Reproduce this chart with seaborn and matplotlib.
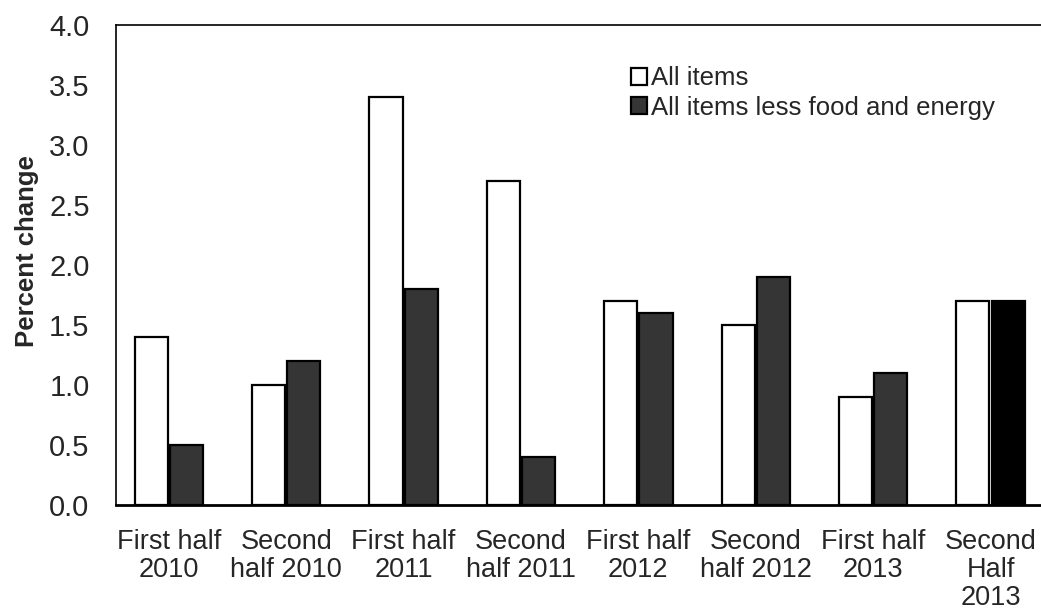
import pandas as pd
import seaborn as sns
import matplotlib.pyplot as plt

periods = ["First half\n2010", "Second\nhalf 2010", "First half\n2011", "Second\nhalf 2011",
           "First half\n2012", "Second\nhalf 2012", "First half\n2013", "Second\nHalf\n2013"]
all_items = [1.4, 1.0, 3.4, 2.7, 1.7, 1.5, 0.9, 1.7]
core_items = [0.5, 1.2, 1.8, 0.4, 1.6, 1.9, 1.1, 1.7]
series = ["All items", "All items less food and energy"]

df = pd.DataFrame({
    "period": periods * 2,
    "value": all_items + core_items,
    "series": [series[0]] * len(periods) + [series[1]] * len(periods),
})

sns.set_style("white")
plt.rcParams['font.family'] = ['Liberation Sans', 'DejaVu Sans']

fig = plt.figure(figsize=(10.41, 6.13), dpi=100)
ax = fig.add_axes([116 / 1041, 1 - 505 / 613, 925 / 1041, 480 / 613])

sns.barplot(data=df, x="period", y="value", hue="series", ax=ax,
            palette=["white", "#353535"], edgecolor="black", linewidth=1.6,
            width=0.6, gap=0.06, legend=False)

# last core bar is solid black in the original
ax.containers[1][7].set_facecolor("black")

ax.set_xlim(-0.45, 7.43)
ax.set_ylim(0, 4.0)
ax.set_yticks([i * 0.5 for i in range(9)])
ax.set_yticklabels([f"{i * 0.5:.1f}" for i in range(9)], fontsize=21)
ax.set_xticks(range(len(periods)))
ax.set_xticklabels(periods, fontsize=19.5, linespacing=1.12)
ax.tick_params(axis="y", length=0, pad=19)
ax.tick_params(axis="x", length=0, pad=17)
ax.set_xlabel("")
ax.set_ylabel("Percent change", fontsize=18.5, fontweight="bold")
ax.yaxis.set_label_coords(-0.083, 0.53)

for side in ["left", "top", "bottom"]:
    ax.spines[side].set_color("black")
    ax.spines[side].set_linewidth(1.2)
ax.spines["bottom"].set_linewidth(2)
ax.spines["right"].set_visible(False)

ax.legend(ax.containers, series, loc="upper left", bbox_to_anchor=(0.546, 0.935),
          frameon=False, fontsize=18.5, handlelength=0.6, handleheight=0.6,
          handletextpad=0.15, labelspacing=0.2, borderaxespad=0)

fig.savefig("out.png", dpi=100)
